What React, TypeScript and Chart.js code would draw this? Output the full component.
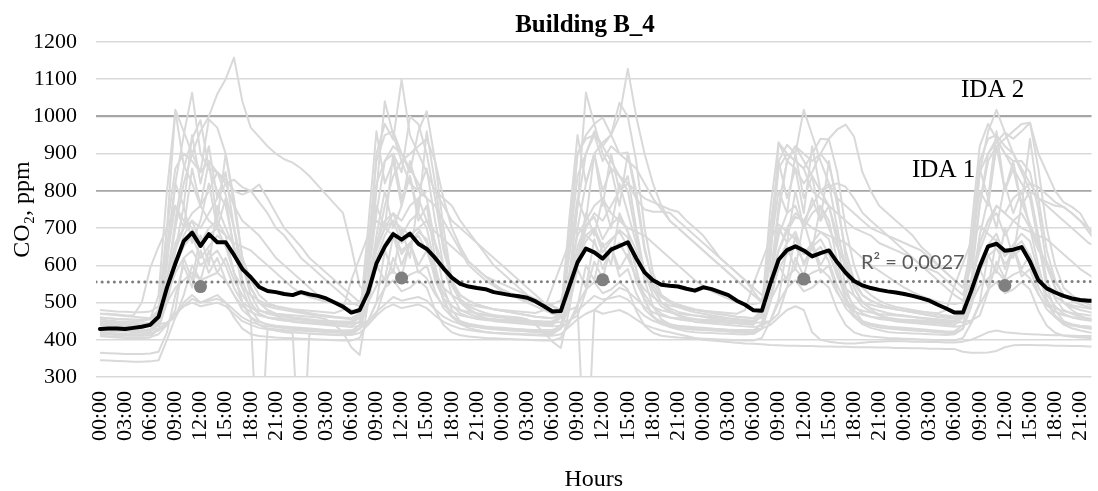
import React, { useEffect, useRef } from "react";
import { Chart, registerables } from "chart.js";

Chart.register(...registerables);

const SERIF = "'Liberation Serif', 'Times New Roman', serif";
const SANS = "Lato, 'Liberation Sans', sans-serif";

const chartTitle = "Building B_4";
const yAxisTitle = "CO₂, ppm";
const xAxisTitle = "Hours";
const r2Text = "R² = 0,0027";

// tick labels (every 3 hours), repeated for each day
const hourLabels = ["00:00", "03:00", "06:00", "09:00", "12:00", "15:00", "18:00", "21:00"];
const dayCount = 5;
const hoursPerDay = 24;
const labelStepHours = 3;

// mean CO2 (black line), hourly, 5 days
const meanCO2 = [
  429, 430, 430, 429, 432, 435, 440, 462, 540, 605, 665, 688, 652, 684, 662, 662, 628, 590, 568, 542, 531, 528, 523, 520,
  528, 522, 518, 511, 500, 489, 473, 480, 527, 605, 650, 684, 669, 685, 658, 644, 620, 592, 567, 550, 543, 539, 536, 528,
  524, 520, 517, 513, 503, 490, 476, 477, 543, 608, 645, 635, 618, 642, 652, 662, 619, 581, 560, 548, 545, 543, 537, 532,
  541, 536, 528, 520, 505, 494, 479, 478, 550, 615, 641, 651, 640, 624, 633, 640, 608, 580, 558, 546, 539, 534, 530, 527,
  523, 518, 512, 505, 494, 484, 473, 473, 532, 597, 651, 658, 639, 642, 649, 610, 560, 538, 527, 518, 511, 507, 505, 504,
];

// daily mean at noon (grey dots)
const noonHour = 12;
const noonMeans = [543, 566, 561, 563, 546];

// thresholds
const idaLevels = [1000, 800];
const idaNames = ["IDA 2", "IDA 1"];

// individual rooms (grey lines), hourly
const room01 = [
  445, 443, 441, 440, 440, 441, 445, 470, 560, 700, 820, 900, 960, 1000, 1060, 1100, 1158, 1040, 970, 945, 920, 900, 885, 876,
  860, 840, 815, 790, 765, 741, 650, 545, 520, 650, 760, 840, 880, 900, 920, 940, 880, 780, 700, 650, 610, 590, 570, 560,
  550, 540, 530, 520, 510, 500, 490, 480, 520, 700, 820, 900, 930, 950, 1000, 1128, 1000, 900, 820, 760, 720, 700, 680, 660,
  640, 620, 600, 580, 560, 540, 520, 500, 560, 760, 880, 920, 900, 880, 900, 940, 965, 978, 946, 850, 800, 760, 740, 720,
  700, 680, 650, 630, 600, 580, 560, 540, 600, 760, 880, 920, 940, 960, 980, 983, 900, 850, 800, 770, 757, 740, 700, 660,
];
const room02 = [
  430, 428, 427, 426, 425, 425, 428, 450, 600, 820, 950, 1064, 900, 860, 850, 830, 800, 790, 800, 817, 780, 740, 700, 676,
  650, 620, 600, 580, 560, 540, 520, 500, 560, 800, 1041, 950, 880, 820, 800, 780, 760, 720, 680, 640, 600, 580, 560, 545,
  530, 520, 510, 500, 490, 480, 470, 465, 560, 760, 1064, 980, 900, 860, 840, 820, 780, 750, 744, 744, 741, 720, 700, 680,
  660, 640, 620, 600, 580, 560, 530, 500, 600, 930, 900, 880, 860, 800, 780, 760, 740, 720, 700, 690, 680, 660, 650, 640,
  630, 620, 600, 590, 580, 560, 540, 520, 600, 850, 960, 1018, 957, 900, 850, 800, 780, 770, 760, 757, 740, 720, 700, 680,
];
const room03 = [
  420, 418, 416, 415, 414, 415, 420, 450, 700, 1018, 960, 900, 850, 880, 850, 820, 760, 720, 700, 680, 650, 620, 600, 580,
  560, 540, 520, 510, 500, 490, 480, 470, 600, 900, 980, 938, 1099, 950, 900, 850, 800, 760, 720, 700, 680, 660, 640, 620,
  600, 580, 560, 540, 520, 500, 490, 480, 650, 900, 950, 980, 997, 951, 900, 880, 860, 820, 780, 750, 720, 700, 680, 660,
  640, 620, 600, 580, 560, 540, 520, 505, 650, 880, 924, 900, 1018, 950, 880, 820, 780, 760, 740, 720, 700, 690, 680, 670,
  660, 650, 640, 620, 600, 580, 560, 540, 650, 880, 940, 950, 920, 900, 860, 820, 780, 760, 740, 720, 700, 680, 660, 650,
];
const room04 = [
  455, 452, 450, 449, 448, 450, 455, 520, 800, 1015, 870, 820, 760, 800, 850, 790, 700, 600, 520, 480, 470, 465, 462, 460,
  458, 455, 452, 450, 448, 446, 445, 470, 650, 880, 950, 960, 900, 850, 960, 1014, 880, 700, 560, 500, 480, 470, 465, 462,
  460, 457, 455, 452, 450, 448, 446, 470, 700, 900, 940, 950, 880, 920, 900, 903, 800, 650, 550, 500, 485, 475, 470, 465,
  462, 458, 455, 452, 450, 448, 446, 480, 750, 930, 880, 860, 820, 850, 900, 870, 780, 620, 540, 500, 485, 478, 472, 468,
  465, 462, 458, 455, 452, 450, 448, 470, 700, 920, 980, 940, 900, 880, 880, 850, 750, 600, 540, 500, 488, 480, 475, 470,
];
const room05 = [
  440, 438, 436, 435, 434, 434, 436, 480, 700, 860, 900, 880, 850, 992, 970, 900, 760, 620, 540, 500, 480, 470, 465, 460,
  456, 452, 450, 448, 446, 444, 442, 460, 620, 820, 880, 900, 850, 1000, 980, 900, 780, 640, 560, 510, 490, 480, 472, 466,
  462, 458, 455, 452, 450, 448, 446, 470, 640, 840, 900, 950, 920, 951, 1037, 1000, 880, 700, 580, 520, 500, 488, 480, 474,
  470, 466, 462, 458, 455, 452, 450, 470, 640, 860, 900, 880, 860, 900, 940, 938, 850, 700, 600, 540, 520, 505, 495, 488,
  484, 480, 476, 472, 468, 465, 462, 480, 640, 850, 900, 930, 957, 940, 960, 983, 860, 700, 600, 540, 520, 505, 495, 488,
];
const room06 = [
  430, 428, 426, 425, 424, 424, 426, 470, 650, 820, 760, 950, 820, 920, 780, 850, 700, 560, 500, 470, 460, 455, 452, 450,
  448, 446, 444, 442, 440, 438, 436, 450, 700, 960, 820, 880, 760, 880, 800, 860, 720, 600, 520, 480, 470, 462, 458, 455,
  452, 450, 448, 446, 444, 442, 440, 460, 720, 950, 820, 900, 760, 900, 800, 840, 700, 580, 520, 490, 475, 466, 460, 456,
  452, 450, 448, 446, 444, 442, 440, 470, 700, 880, 780, 860, 740, 920, 800, 820, 700, 580, 520, 490, 475, 466, 460, 456,
  452, 450, 448, 446, 444, 442, 440, 460, 650, 860, 780, 960, 800, 880, 760, 800, 680, 560, 510, 480, 470, 462, 458, 455,
];
const room07 = [
  470, 468, 466, 464, 462, 460, 458, 480, 620, 760, 700, 860, 760, 880, 720, 900, 780, 620, 540, 500, 490, 484, 480, 476,
  472, 468, 465, 462, 460, 458, 455, 470, 600, 760, 700, 900, 780, 840, 740, 960, 820, 660, 560, 520, 505, 495, 488, 482,
  478, 474, 470, 466, 462, 460, 458, 470, 620, 780, 720, 900, 800, 860, 760, 900, 780, 640, 560, 520, 505, 495, 488, 482,
  478, 474, 470, 466, 462, 460, 458, 480, 640, 800, 740, 900, 780, 840, 720, 880, 760, 640, 560, 520, 505, 495, 488, 482,
  478, 474, 470, 466, 462, 460, 458, 480, 640, 800, 760, 920, 800, 860, 760, 940, 780, 640, 560, 520, 505, 495, 488, 482,
];
const room08 = [
  410, 408, 406, 405, 404, 404, 406, 430, 560, 720, 860, 940, 990, 860, 800, 760, 650, 540, 480, 450, 440, 435, 432, 430,
  428, 426, 424, 422, 420, 418, 416, 430, 560, 740, 880, 920, 900, 860, 820, 780, 660, 540, 480, 450, 440, 435, 432, 430,
  428, 426, 424, 422, 420, 418, 416, 430, 560, 760, 900, 960, 920, 880, 840, 800, 680, 560, 490, 455, 442, 436, 432, 430,
  428, 426, 424, 422, 420, 418, 416, 430, 560, 740, 880, 920, 880, 840, 800, 760, 660, 540, 480, 450, 440, 435, 432, 430,
  428, 426, 424, 422, 420, 418, 416, 430, 560, 760, 900, 940, 900, 860, 820, 780, 660, 540, 480, 450, 440, 435, 432, 430,
];
const room09 = [
  450, 448, 446, 445, 444, 444, 446, 470, 520, 640, 760, 660, 720, 820, 700, 780, 640, 620, 560, 520, 500, 490, 485, 480,
  476, 472, 468, 465, 462, 460, 458, 470, 540, 680, 800, 700, 760, 840, 720, 760, 620, 600, 550, 520, 505, 495, 488, 482,
  478, 474, 470, 466, 462, 460, 458, 470, 520, 620, 740, 680, 780, 700, 820, 740, 660, 590, 545, 515, 500, 490, 484, 480,
  476, 472, 468, 465, 462, 460, 458, 470, 560, 700, 660, 800, 700, 780, 720, 760, 680, 600, 550, 520, 505, 495, 488, 482,
  478, 474, 470, 466, 462, 460, 458, 470, 540, 680, 780, 700, 820, 740, 800, 700, 640, 610, 555, 520, 505, 495, 488, 482,
];
const room10 = [
  470, 470, 468, 466, 465, 500, 593, 650, 700, 760, 720, 700, 650, 680, 700, 650, 580, 540, 520, 505, 495, 490, 486, 482,
  480, 478, 476, 474, 472, 480, 560, 620, 680, 720, 700, 680, 640, 660, 680, 640, 580, 540, 520, 505, 495, 490, 486, 482,
  480, 478, 476, 474, 472, 480, 540, 600, 660, 700, 680, 660, 620, 640, 660, 620, 570, 535, 515, 500, 492, 488, 484, 480,
  478, 476, 474, 472, 470, 480, 550, 610, 670, 710, 690, 670, 630, 650, 670, 630, 575, 538, 518, 502, 494, 489, 485, 481,
  479, 477, 475, 473, 471, 480, 545, 605, 665, 705, 685, 665, 625, 645, 665, 625, 572, 536, 516, 501, 493, 488, 484, 480,
];
const room11 = [
  460, 458, 456, 455, 454, 454, 456, 470, 520, 600, 680, 720, 700, 740, 780, 820, 830, 810, 800, 770, 740, 700, 680, 650,
  620, 600, 580, 560, 540, 520, 500, 490, 560, 640, 700, 740, 720, 760, 780, 800, 800, 780, 760, 720, 690, 660, 630, 600,
  580, 560, 540, 520, 500, 490, 480, 475, 540, 620, 700, 740, 720, 760, 800, 820, 800, 780, 770, 760, 750, 744, 720, 700,
  680, 650, 620, 600, 580, 560, 540, 520, 560, 640, 700, 740, 720, 760, 800, 811, 820, 811, 780, 741, 720, 700, 680, 660,
  640, 620, 600, 580, 560, 540, 520, 505, 560, 640, 700, 760, 740, 780, 800, 820, 810, 790, 770, 757, 740, 720, 690, 660,
];
const room12 = [
  420, 418, 417, 416, 415, 415, 417, 425, 440, 480, 620, 560, 680, 600, 760, 700, 650, 600, 540, 500, 480, 465, 455, 448,
  446, 444, 442, 440, 438, 436, 434, 438, 450, 500, 640, 580, 700, 620, 780, 720, 660, 600, 545, 505, 485, 468, 458, 450,
  448, 446, 444, 442, 440, 438, 436, 438, 445, 490, 600, 560, 660, 600, 740, 690, 640, 590, 535, 500, 480, 465, 455, 448,
  446, 444, 442, 440, 438, 436, 434, 438, 450, 510, 650, 590, 720, 640, 760, 700, 650, 600, 540, 502, 482, 466, 456, 449,
  447, 445, 443, 441, 439, 437, 435, 438, 448, 500, 630, 580, 700, 620, 770, 710, 655, 598, 540, 500, 480, 465, 455, 448,
];
const room13 = [
  480, 478, 476, 475, 474, 474, 476, 490, 560, 660, 700, 740, 760, 720, 700, 680, 660, 650, 640, 620, 600, 580, 560, 540,
  525, 515, 508, 502, 500, 498, 496, 500, 540, 620, 680, 720, 700, 680, 700, 720, 690, 670, 650, 630, 610, 590, 570, 550,
  535, 525, 515, 505, 500, 498, 496, 505, 580, 680, 720, 760, 780, 740, 720, 700, 690, 680, 660, 640, 620, 600, 580, 560,
  545, 530, 520, 510, 502, 498, 496, 500, 550, 640, 690, 730, 720, 700, 690, 680, 670, 660, 640, 620, 600, 585, 570, 555,
  540, 528, 518, 510, 502, 498, 496, 500, 560, 660, 720, 760, 740, 720, 700, 690, 680, 670, 650, 630, 610, 590, 575, 560,
];
const room14 = [
  425, 424, 423, 422, 421, 421, 423, 440, 520, 640, 700, 720, 660, 700, 720, 680, 580, 500, 460, 0, 430, 428, 426, 425,
  424, 423, 422, 421, 420, 420, 422, 440, 540, 660, 720, 740, 680, 720, 740, 700, 600, 510, 465, 445, 438, 434, 430, 428,
  426, 425, 424, 423, 422, 421, 423, 440, 530, 650, 710, 730, 670, 710, 730, 690, 590, 505, 462, 442, 436, 432, 429, 427,
  426, 425, 424, 423, 422, 421, 423, 445, 560, 680, 740, 760, 700, 740, 760, 720, 610, 515, 468, 446, 438, 433, 430, 428,
  426, 425, 424, 423, 422, 421, 423, 440, 540, 660, 720, 740, 680, 720, 740, 700, 600, 510, 465, 445, 438, 434, 430, 428,
];
const room15 = [
  415, 414, 413, 412, 411, 411, 413, 430, 500, 600, 650, 680, 620, 650, 680, 660, 580, 500, 460, 440, 430, 425, 420, 418,
  0, 416, 415, 414, 413, 412, 414, 430, 500, 610, 660, 690, 630, 660, 690, 670, 585, 505, 462, 442, 432, 426, 421, 419,
  418, 417, 416, 415, 414, 413, 415, 432, 505, 615, 665, 695, 635, 665, 695, 675, 588, 508, 464, 444, 434, 428, 423, 420,
  419, 418, 417, 416, 415, 414, 416, 430, 500, 610, 660, 690, 630, 660, 690, 670, 585, 505, 462, 442, 432, 426, 421, 419,
  418, 417, 416, 415, 414, 413, 415, 430, 500, 605, 655, 685, 625, 655, 685, 665, 582, 503, 461, 441, 431, 425, 420, 418,
];
const room16 = [
  445, 444, 443, 442, 441, 441, 443, 455, 500, 540, 560, 580, 560, 570, 580, 560, 520, 490, 475, 465, 460, 458, 456, 455,
  454, 453, 452, 451, 450, 449, 450, 460, 500, 545, 565, 585, 560, 575, 585, 565, 522, 492, 476, 466, 461, 458, 456, 455,
  454, 453, 452, 451, 450, 449, 450, 460, 480, 489, 0, 480, 500, 520, 540, 530, 510, 488, 474, 465, 460, 458, 456, 455,
  454, 453, 452, 451, 450, 449, 450, 460, 505, 550, 570, 590, 565, 580, 590, 570, 525, 494, 477, 467, 462, 459, 457, 455,
  454, 453, 452, 451, 450, 449, 450, 460, 500, 545, 565, 585, 560, 575, 585, 565, 522, 492, 476, 466, 461, 458, 456, 455,
];
const room17 = [
  440, 439, 438, 437, 436, 436, 438, 442, 446, 460, 520, 600, 560, 640, 580, 620, 560, 520, 490, 470, 460, 455, 452, 450,
  448, 447, 446, 445, 444, 443, 444, 446, 450, 470, 540, 620, 570, 660, 600, 640, 570, 525, 492, 471, 462, 456, 453, 451,
  450, 449, 448, 447, 446, 445, 446, 448, 452, 465, 530, 610, 565, 650, 590, 630, 565, 522, 490, 470, 460, 455, 452, 450,
  449, 448, 447, 446, 445, 444, 445, 447, 450, 470, 540, 620, 570, 660, 600, 640, 570, 525, 492, 471, 462, 456, 453, 451,
  450, 449, 448, 447, 446, 445, 446, 448, 452, 465, 530, 610, 565, 650, 590, 630, 565, 522, 490, 470, 460, 455, 452, 450,
];
const room18 = [
  460, 458, 456, 455, 454, 454, 456, 470, 520, 580, 620, 640, 600, 620, 640, 600, 540, 500, 485, 478, 474, 470, 468, 466,
  464, 462, 460, 455, 440, 420, 380, 359, 500, 650, 700, 720, 660, 680, 700, 660, 560, 510, 490, 480, 475, 471, 468, 466,
  464, 462, 460, 455, 440, 420, 395, 378, 480, 620, 680, 700, 650, 670, 690, 650, 555, 508, 488, 479, 474, 470, 467, 465,
  463, 461, 459, 457, 455, 453, 452, 465, 520, 590, 630, 650, 610, 630, 650, 610, 545, 502, 486, 478, 473, 469, 467, 465,
  463, 461, 459, 457, 455, 453, 452, 465, 515, 585, 625, 645, 605, 625, 645, 605, 542, 500, 485, 477, 472, 469, 466, 464,
];
const room19 = [
  345, 344, 343, 342, 341, 341, 342, 345, 400, 460, 500, 520, 500, 510, 520, 500, 460, 430, 415, 410, 408, 406, 405, 404,
  403, 402, 401, 400, 399, 398, 398, 405, 450, 500, 540, 560, 530, 540, 560, 540, 480, 440, 420, 412, 409, 407, 405, 404,
  403, 402, 401, 400, 399, 398, 398, 405, 445, 495, 535, 555, 525, 535, 555, 535, 478, 438, 419, 411, 408, 406, 405, 404,
  403, 402, 401, 400, 399, 398, 398, 405, 450, 500, 540, 560, 530, 540, 560, 540, 480, 440, 420, 412, 409, 407, 405, 404,
  403, 402, 401, 400, 399, 398, 398, 405, 445, 495, 535, 555, 525, 535, 555, 535, 478, 438, 419, 411, 408, 406, 405, 404,
];
const room20 = [
  365, 364, 363, 362, 362, 362, 363, 368, 420, 520, 600, 540, 640, 580, 620, 560, 520, 480, 460, 448, 442, 438, 436, 434,
  432, 430, 428, 426, 424, 422, 420, 430, 500, 600, 560, 680, 600, 660, 580, 600, 530, 485, 462, 450, 443, 439, 436, 434,
  432, 430, 428, 426, 424, 422, 420, 430, 490, 590, 540, 670, 590, 650, 570, 590, 525, 482, 461, 449, 442, 438, 436, 434,
  432, 430, 428, 426, 424, 422, 420, 430, 500, 600, 560, 680, 600, 660, 580, 600, 530, 485, 462, 450, 443, 439, 436, 434,
  432, 430, 428, 426, 424, 422, 420, 430, 490, 590, 540, 670, 590, 650, 570, 590, 525, 482, 461, 449, 442, 438, 436, 434,
];
const room21 = [
  410, 409, 408, 407, 406, 406, 407, 415, 440, 470, 490, 500, 490, 495, 500, 490, 470, 450, 440, 432, 428, 425, 422, 420,
  418, 417, 416, 415, 414, 413, 413, 418, 440, 465, 485, 495, 485, 490, 495, 485, 465, 448, 438, 430, 426, 423, 420, 418,
  416, 415, 414, 413, 412, 411, 411, 415, 435, 455, 470, 480, 470, 475, 480, 470, 455, 440, 432, 425, 420, 415, 410, 405,
  400, 398, 396, 394, 392, 390, 389, 388, 386, 385, 384, 384, 383, 383, 382, 382, 381, 381, 380, 380, 380, 379, 379, 378,
  378, 377, 377, 376, 376, 375, 375, 368, 365, 365, 366, 370, 380, 385, 386, 386, 385, 385, 384, 384, 383, 383, 382, 382,
];
const room22 = [
  428, 427, 426, 425, 424, 424, 425, 430, 445, 470, 490, 510, 500, 505, 510, 500, 480, 460, 448, 440, 436, 434, 432, 430,
  429, 428, 427, 426, 425, 425, 426, 430, 448, 475, 495, 515, 505, 510, 515, 505, 482, 462, 450, 442, 437, 435, 433, 431,
  430, 429, 428, 427, 426, 426, 427, 432, 450, 478, 498, 518, 508, 512, 518, 508, 485, 464, 451, 443, 438, 435, 433, 431,
  430, 429, 428, 427, 426, 426, 427, 430, 440, 460, 480, 490, 480, 420, 400, 395, 392, 390, 390, 392, 394, 395, 396, 396,
  396, 395, 395, 394, 394, 393, 393, 395, 400, 410, 420, 425, 420, 418, 416, 415, 414, 413, 412, 412, 411, 410, 410, 410,
];

const rooms = [
  room01, room02, room03, room04, room05, room06, room07, room08, room09, room10, room11,
  room12, room13, room14, room15, room16, room17, room18, room19, room20, room21, room22,
];

// ---- layout / style constants (not data) ----
const W = 1098;
const H = 491;
const X_MIN = -0.47;
const X_MAX = 118.34;
const PLOT_LEFT = 96;
const PLOT_TOP = 42;
const X_AXIS_HEIGHT = 114;
const idaLabelPos = [
  { x: 961, y: 97 },
  { x: 912, y: 177 },
];

const xTickValues: number[] = [];
const xTickLabels: string[] = [];
for (let d = 0; d < dayCount; d++) {
  hourLabels.forEach((lab, k) => {
    xTickValues.push(d * hoursPerDay + k * labelStepHours);
    xTickLabels.push(lab);
  });
}

const toXY = (arr: number[]) => arr.map((y, i) => ({ x: i, y }));

// linear trend through the noon means
const noonPoints = noonMeans.map((y, d) => ({ x: d * hoursPerDay + noonHour, y }));
const mx = noonPoints.reduce((s, p) => s + p.x, 0) / noonPoints.length;
const my = noonPoints.reduce((s, p) => s + p.y, 0) / noonPoints.length;
const sxy = noonPoints.reduce((s, p) => s + (p.x - mx) * (p.y - my), 0);
const sxx = noonPoints.reduce((s, p) => s + (p.x - mx) * (p.x - mx), 0);
const slope = sxy / sxx;
const intercept = my - slope * mx;
const trendEndX = dayCount * hoursPerDay - 1;
const trendPoints = [
  { x: X_MIN, y: intercept + slope * X_MIN },
  { x: trendEndX, y: intercept + slope * trendEndX },
];

const textPlugin = {
  id: "texts",
  afterDraw(chart: any) {
    const { ctx } = chart;
    ctx.save();
    ctx.fillStyle = "#000";
    ctx.textBaseline = "alphabetic";
    ctx.textAlign = "center";
    ctx.font = `bold 25px ${SERIF}`;
    ctx.fillText(chartTitle, 585, 32);
    ctx.textAlign = "left";
    ctx.font = `25px ${SERIF}`;
    idaNames.forEach((name, k) => {
      ctx.fillText(name, idaLabelPos[k].x, idaLabelPos[k].y);
    });
    ctx.fillStyle = "#595959";
    ctx.font = `20px ${SANS}`;
    ctx.fillText(r2Text, 861, 269);
    ctx.restore();
  },
};

export default function App() {
  const ref = useRef<HTMLCanvasElement>(null);

  useEffect(() => {
    const canvas = ref.current;
    if (!canvas) return;

    const greyDatasets = rooms.map((r, k) => ({
      label: `room ${k + 1}`,
      data: toXY(r),
      borderColor: "#d9d9d9",
      borderWidth: 2,
      pointRadius: 0,
      tension: 0,
      borderJoinStyle: "round" as const,
      order: 10,
    }));

    const chart = new Chart(canvas, {
      type: "line",
      data: {
        datasets: [
          {
            label: "mean",
            data: toXY(meanCO2),
            borderColor: "#000",
            borderWidth: 4,
            pointRadius: 0,
            borderJoinStyle: "round",
            borderCapStyle: "round",
            order: 0,
          },
          {
            label: "noon",
            data: noonPoints,
            showLine: false,
            pointRadius: 6.5,
            pointBackgroundColor: "#808080",
            pointBorderColor: "#808080",
            pointBorderWidth: 0,
            order: 1,
          },
          {
            label: "trend",
            data: trendPoints,
            borderColor: "#7f7f7f",
            borderWidth: 3,
            borderDash: [0.1, 6],
            borderCapStyle: "round",
            pointRadius: 0,
            order: 2,
          },
          ...greyDatasets,
        ],
      },
      options: {
        responsive: false,
        animation: false,
        events: [],
        layout: { padding: { top: PLOT_TOP, left: 0, right: 0, bottom: 0 } },
        plugins: {
          legend: { display: false },
          tooltip: { enabled: false },
          title: { display: false },
        },
        scales: {
          x: {
            type: "linear",
            min: X_MIN,
            max: X_MAX,
            grid: { display: false, drawTicks: false },
            border: { display: false },
            afterBuildTicks: (scale: any) => {
              scale.ticks = xTickValues.map((value) => ({ value }));
            },
            ticks: {
              autoSkip: false,
              minRotation: 90,
              maxRotation: 90,
              padding: 14,
              color: "#000",
              font: { family: SERIF, size: 22 },
              callback: (value: any) => {
                const idx = xTickValues.indexOf(Number(value));
                return idx >= 0 ? xTickLabels[idx] : "";
              },
            },
            title: {
              display: true,
              text: xAxisTitle,
              color: "#000",
              font: { family: SERIF, size: 24, lineHeight: 1 },
              padding: { top: 0, bottom: -1 },
            },
            afterFit: (scale: any) => {
              scale.height = X_AXIS_HEIGHT;
              scale.paddingLeft = 0;
              scale.paddingRight = 0;
            },
          },
          y: {
            min: 300,
            max: 1200,
            grid: {
              drawTicks: false,
              color: (ctx: any) => (idaLevels.includes(ctx.tick?.value) ? "#a6a6a6" : "#d9d9d9"),
              lineWidth: (ctx: any) => (ctx.tick?.value === idaLevels[0] ? 2.2 : idaLevels.includes(ctx.tick?.value) ? 1.8 : 1.6),
            },
            border: { display: false },
            ticks: {
              stepSize: 100,
              padding: 19,
              color: "#000",
              font: { family: SERIF, size: 22 },
              callback: (value: any) => String(value),
            },
            title: {
              display: true,
              text: yAxisTitle,
              color: "#000",
              font: { family: SERIF, size: 24 },
              padding: { top: 8, bottom: 0 },
            },
            afterFit: (scale: any) => {
              scale.width = PLOT_LEFT;
              scale.paddingTop = 0;
              scale.paddingBottom = 0;
            },
          },
        },
      },
      plugins: [textPlugin],
    } as any);

    return () => chart.destroy();
  }, []);

  return (
    <div style={{ position: "fixed", left: 0, top: 0, width: W, height: H, background: "#fff" }}>
      <canvas ref={ref} width={W} height={H} style={{ display: "block" }} />
    </div>
  );
}
